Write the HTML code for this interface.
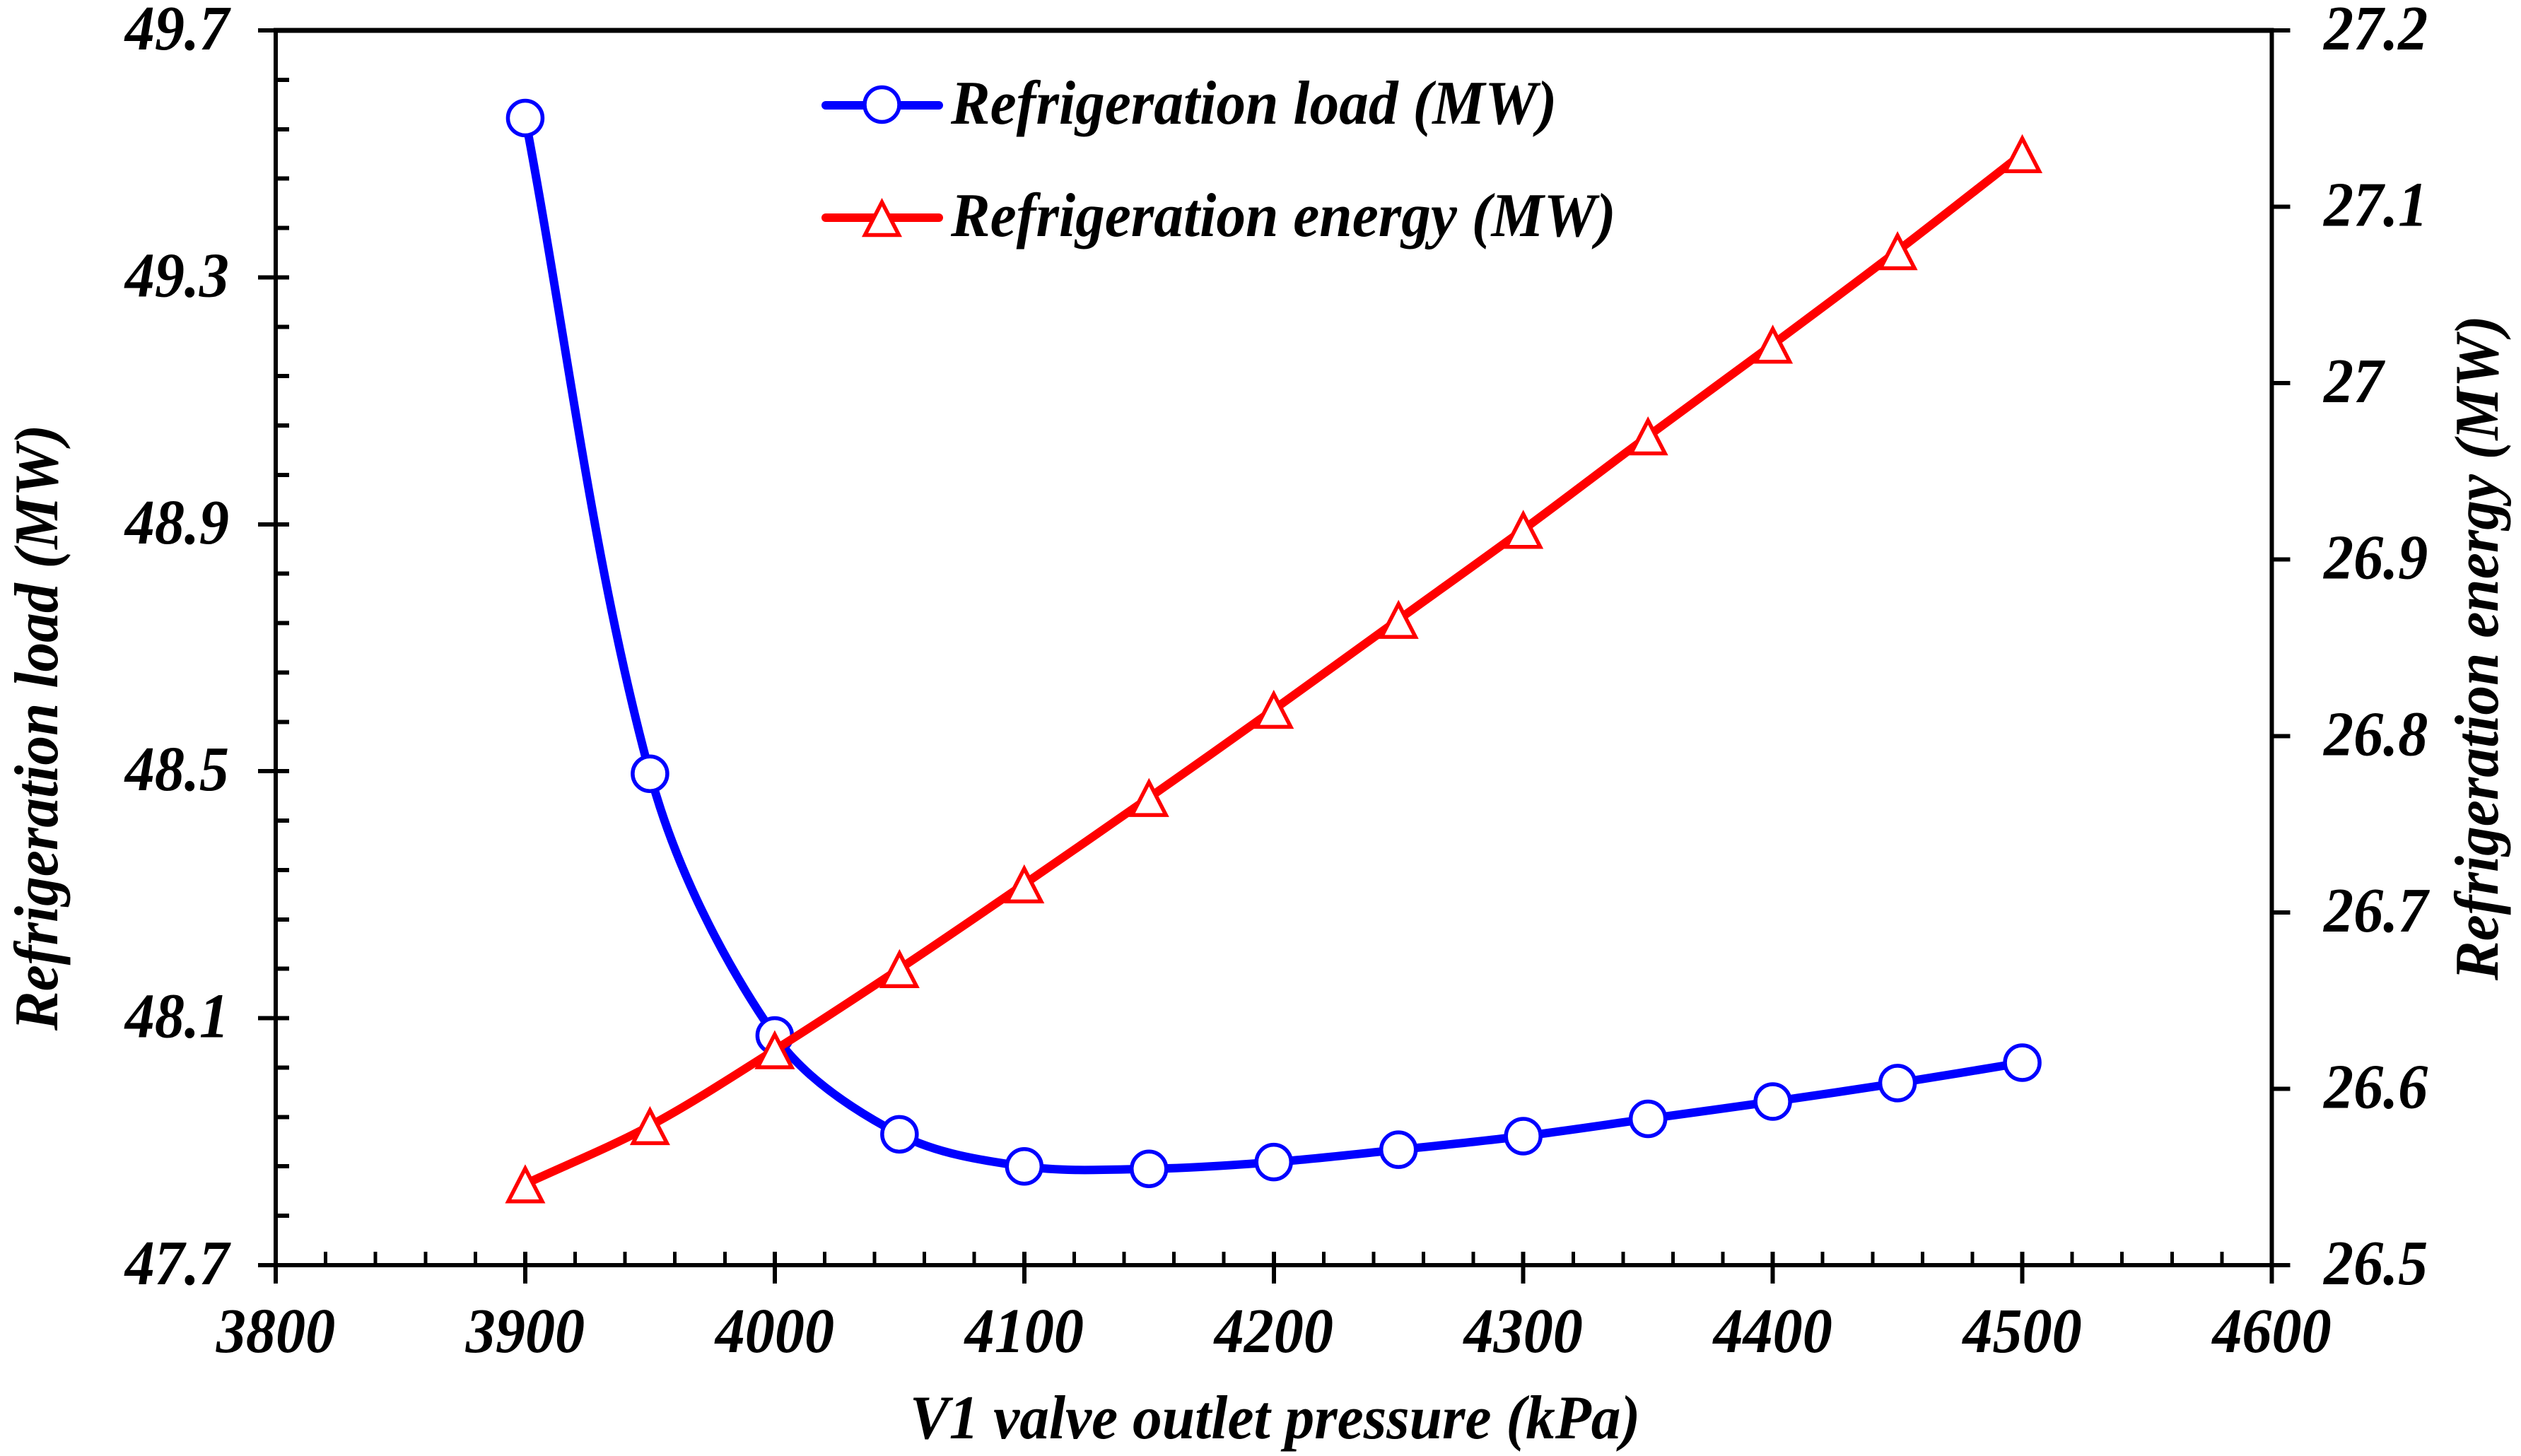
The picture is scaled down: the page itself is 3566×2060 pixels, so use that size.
<!DOCTYPE html>
<html lang="en">
<head>
<meta charset="utf-8">
<title>Refrigeration load and energy vs V1 valve outlet pressure</title>
<style>
html,body{margin:0;padding:0;background:#fff;width:3566px;height:2060px;overflow:hidden}
svg{display:block}
text{font-family:"Liberation Serif","Times New Roman",serif;font-weight:bold;font-style:italic;fill:#000}
.tick-label{font-size:90px}
.title{font-size:88px}
</style>
</head>
<body>
<svg id="chart" xmlns="http://www.w3.org/2000/svg" width="3566" height="2060" viewBox="0 0 3566 2060">
  <rect x="0" y="0" width="3566" height="2060" fill="#fff"/>
  <g id="axes"></g>
  <g id="series"></g>
  <text class="title" transform="translate(81,1458) rotate(-90) scale(0.948,1)">Refrigeration load (MW)</text>
  <text class="title" transform="translate(3533,1387) rotate(-90) scale(0.948,1)">Refrigeration energy (MW)</text>
  <text class="title" transform="translate(1287,2035) scale(0.948,1)">V1 valve outlet pressure (kPa)</text>
  <g>
    <g>
      <line x1="1168" y1="149" x2="1328" y2="149" stroke="#0000ff" stroke-width="12" stroke-linecap="round"/>
      <circle cx="1247.5" cy="148" r="24.5" fill="#fff" stroke="#0000ff" stroke-width="5.5"/>
      <text class="title" transform="translate(1345,175) scale(0.948,1)">Refrigeration load (MW)</text>
    </g>
    <g>
      <line x1="1168" y1="308" x2="1328" y2="308" stroke="#ff0000" stroke-width="12" stroke-linecap="round"/>
      <path d="M1247.5,286 L1271.5,332.5 L1223.5,332.5 Z" fill="#fff" stroke="#ff0000" stroke-width="5.5"/>
      <text class="title" transform="translate(1345,334) scale(0.948,1)">Refrigeration energy (MW)</text>
    </g>
  </g>
</svg>
<script>
// Chart data
const pressures = [3900, 3950, 4000, 4050, 4100, 4150, 4200, 4250, 4300, 4350, 4400, 4450, 4500];
const refrigerationLoad = [49.558, 48.496, 48.072, 47.912, 47.860, 47.856, 47.867, 47.887, 47.909, 47.937, 47.965, 47.995, 48.028];
const refrigerationEnergy = [26.546, 26.579, 26.622, 26.668, 26.716, 26.765, 26.815, 26.866, 26.917, 26.970, 27.022, 27.075, 27.130];
const xTickLabels = ["3800", "3900", "4000", "4100", "4200", "4300", "4400", "4500", "4600"];
const leftTickLabels = ["47.7", "48.1", "48.5", "48.9", "49.3", "49.7"];
const rightTickLabels = ["26.5", "26.6", "26.7", "26.8", "26.9", "27", "27.1", "27.2"];

const SVGNS = "http://www.w3.org/2000/svg";
const plot = { left: 390, right: 3213.5, top: 43, bottom: 1790 };
const xDomain = [3800, 4600];
const leftDomain = [47.7, 49.7];
const rightDomain = [26.5, 27.2];

function xScale(v) { return plot.left + (v - xDomain[0]) / (xDomain[1] - xDomain[0]) * (plot.right - plot.left); }
function yLeft(v) { return plot.bottom - (v - leftDomain[0]) / (leftDomain[1] - leftDomain[0]) * (plot.bottom - plot.top); }
function yRight(v) { return plot.bottom - (v - rightDomain[0]) / (rightDomain[1] - rightDomain[0]) * (plot.bottom - plot.top); }

const axes = document.getElementById("axes");
const series = document.getElementById("series");

function makeLine(parent, x1, y1, x2, y2, width) {
  const el = document.createElementNS(SVGNS, "line");
  el.setAttribute("x1", x1);
  el.setAttribute("y1", y1);
  el.setAttribute("x2", x2);
  el.setAttribute("y2", y2);
  el.setAttribute("stroke", "#000");
  el.setAttribute("stroke-width", width);
  el.setAttribute("shape-rendering", "crispEdges");
  parent.appendChild(el);
  return el;
}

function makeLabel(parent, x, y, anchor, content) {
  const el = document.createElementNS(SVGNS, "text");
  el.setAttribute("class", "tick-label");
  el.setAttribute("transform", "translate(" + x + "," + y + ") scale(0.935,1)");
  el.setAttribute("text-anchor", anchor);
  el.textContent = content;
  parent.appendChild(el);
  return el;
}

// Axis frame
let frameLine;
frameLine = makeLine(axes, plot.left, plot.top - 3, plot.left, 1816, 6);


frameLine = makeLine(axes, plot.right, plot.top - 3, plot.right, 1816, 6);


frameLine = makeLine(axes, plot.left - 3, plot.top, plot.right + 3, plot.top, 7);


frameLine = makeLine(axes, plot.left - 3, plot.bottom, plot.right + 3, plot.bottom, 6);



// X ticks
xTickLabels.forEach(function (label, i) {
  const value = Number(label);
  const x = xScale(value);
  const major = makeLine(axes, x, plot.bottom - 19, x, 1816, 6);
  
  
  const t = makeLabel(axes, x, 1913, "middle", label);
  
  
  if (i < xTickLabels.length - 1) {
    for (let k = 1; k < 5; k++) {
      const mx = xScale(value + k * 20);
      const minor = makeLine(axes, mx, plot.bottom - 19, mx, plot.bottom, 5);
      
      
    }
  }
});

// Left ticks
leftTickLabels.forEach(function (label, i) {
  const value = Number(label);
  const y = yLeft(value);
  const major = makeLine(axes, plot.left - 25, y, plot.left + (i === 0 || i === leftTickLabels.length - 1 ? 0 : 19), y, 6);
  
  
  const t = makeLabel(axes, 324, y + 27, "end", label);
  
  
  if (i < leftTickLabels.length - 1) {
    for (let k = 1; k < 5; k++) {
      const my = yLeft(value + k * 0.08);
      const minor = makeLine(axes, plot.left, my, plot.left + 19, my, 6);
      
      
    }
  }
});

// Right ticks
rightTickLabels.forEach(function (label) {
  const y = yRight(Number(label));
  const major = makeLine(axes, plot.right, y, plot.right + 26, y, 6);
  
  
  const t = makeLabel(axes, 3287, y + 27, "start", label);
  
  
});

// Smooth path through the points, with chord-weighted tangents
function smoothPath(pts) {
  function dist(a, b) { return Math.hypot(a[0] - b[0], a[1] - b[1]); }
  let d = "M" + pts[0][0].toFixed(2) + "," + pts[0][1].toFixed(2);
  for (let i = 0; i < pts.length - 1; i++) {
    const p0 = pts[Math.max(i - 1, 0)];
    const p1 = pts[i];
    const p2 = pts[i + 1];
    const p3 = pts[Math.min(i + 2, pts.length - 1)];
    const seg = dist(p1, p2);
    const a1 = seg / (dist(p0, p1) + seg) / 2;
    const a2 = seg / (dist(p2, p3) + seg) / 2;
    const c1x = p1[0] + (p2[0] - p0[0]) * a1 * 0.66;
    const c1y = p1[1] + (p2[1] - p0[1]) * a1 * 0.66;
    const c2x = p2[0] - (p3[0] - p1[0]) * a2 * 0.66;
    const c2y = p2[1] - (p3[1] - p1[1]) * a2 * 0.66;
    d += " C" + c1x.toFixed(2) + "," + c1y.toFixed(2) + " " + c2x.toFixed(2) + "," + c2y.toFixed(2) + " " + p2[0].toFixed(2) + "," + p2[1].toFixed(2);
  }
  return d;
}

// Refrigeration load series
const loadPoints = pressures.map(function (p, i) { return [xScale(p), yLeft(refrigerationLoad[i])]; });
const loadLine = document.createElementNS(SVGNS, "path");
loadLine.setAttribute("d", smoothPath(loadPoints));
loadLine.setAttribute("fill", "none");
loadLine.setAttribute("stroke", "#0000ff");
loadLine.setAttribute("stroke-width", "12");


series.appendChild(loadLine);
loadPoints.forEach(function (pt) {
  const c = document.createElementNS(SVGNS, "circle");
  c.setAttribute("cx", pt[0]);
  c.setAttribute("cy", pt[1]);
  c.setAttribute("r", "24.5");
  c.setAttribute("fill", "#fff");
  c.setAttribute("stroke", "#0000ff");
  c.setAttribute("stroke-width", "5.5");
  
  
  series.appendChild(c);
});

// Refrigeration energy series
const energyPoints = pressures.map(function (p, i) { return [xScale(p), yRight(refrigerationEnergy[i])]; });
const energyLine = document.createElementNS(SVGNS, "path");
energyLine.setAttribute("d", smoothPath(energyPoints));
energyLine.setAttribute("fill", "none");
energyLine.setAttribute("stroke", "#ff0000");
energyLine.setAttribute("stroke-width", "12");


series.appendChild(energyLine);
energyPoints.forEach(function (pt) {
  const tri = document.createElementNS(SVGNS, "path");
  const cx = pt[0];
  const cy = pt[1];
  tri.setAttribute("d", "M" + cx + "," + (cy - 22) + " L" + (cx + 24) + "," + (cy + 24.5) + " L" + (cx - 24) + "," + (cy + 24.5) + " Z");
  tri.setAttribute("fill", "#fff");
  tri.setAttribute("stroke", "#ff0000");
  tri.setAttribute("stroke-width", "5.5");
  
  
  series.appendChild(tri);
});
</script>
</body>
</html>
